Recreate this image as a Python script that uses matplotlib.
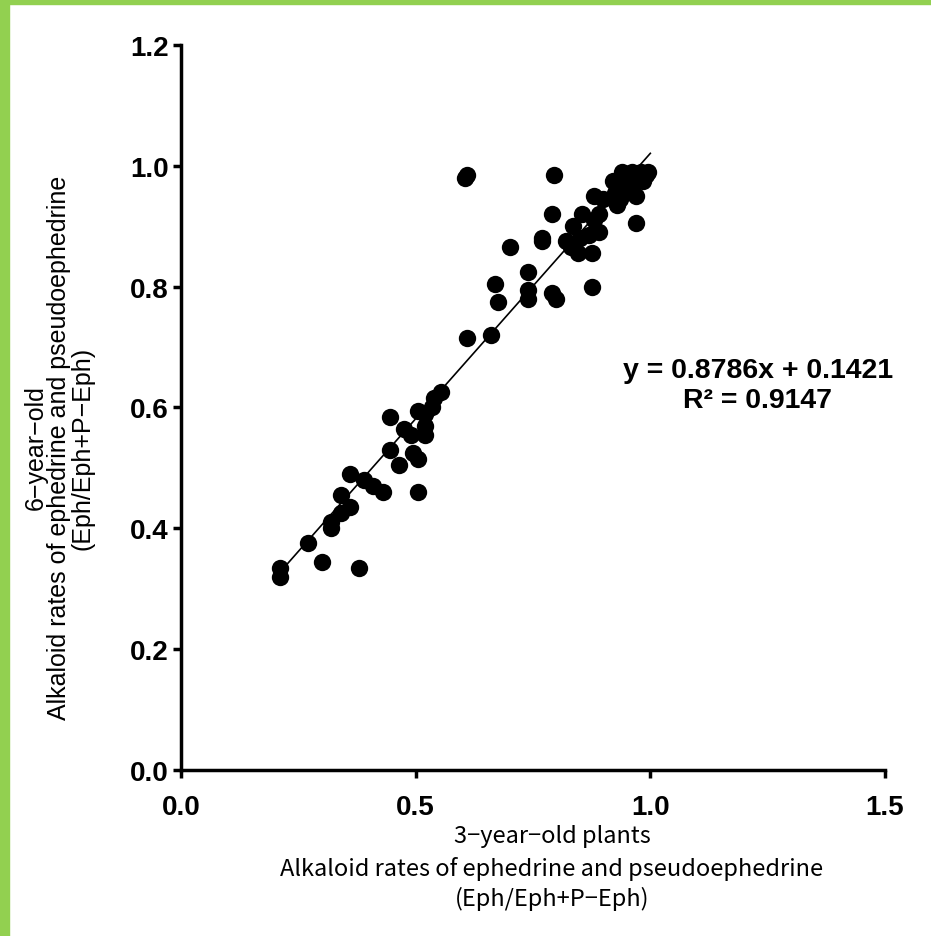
import matplotlib
matplotlib.use("Agg")
import matplotlib.pyplot as plt
from matplotlib.patches import Rectangle
import numpy as np

# Data (3-year-old x, 6-year-old y)
x3 = [0.21, 0.21, 0.27, 0.30, 0.32, 0.32, 0.34, 0.34, 0.36, 0.36, 0.38, 0.39,
      0.41, 0.43, 0.445, 0.445, 0.465, 0.475, 0.49, 0.495, 0.505, 0.505, 0.505,
      0.52, 0.52, 0.52, 0.535, 0.54, 0.555, 0.605, 0.61, 0.61, 0.66, 0.67,
      0.675, 0.70, 0.74, 0.74, 0.74, 0.77, 0.77, 0.79, 0.79, 0.80, 0.795,
      0.82, 0.83, 0.835, 0.845, 0.85, 0.855, 0.87, 0.875, 0.875, 0.88, 0.88,
      0.89, 0.89, 0.90, 0.92, 0.925, 0.93, 0.935, 0.94, 0.945, 0.95, 0.955,
      0.96, 0.965, 0.97, 0.97, 0.975, 0.98, 0.985, 0.99, 0.995]
y6 = [0.335, 0.32, 0.375, 0.345, 0.40, 0.41, 0.425, 0.455, 0.49, 0.435, 0.335, 0.48,
      0.47, 0.46, 0.585, 0.53, 0.505, 0.565, 0.555, 0.525, 0.515, 0.46, 0.595,
      0.555, 0.57, 0.59, 0.60, 0.615, 0.625, 0.98, 0.985, 0.715, 0.72, 0.805,
      0.775, 0.865, 0.825, 0.795, 0.78, 0.88, 0.875, 0.92, 0.79, 0.78, 0.985,
      0.875, 0.865, 0.90, 0.855, 0.88, 0.92, 0.885, 0.855, 0.80, 0.95, 0.91,
      0.92, 0.89, 0.945, 0.975, 0.955, 0.935, 0.945, 0.99, 0.975, 0.96, 0.985,
      0.99, 0.975, 0.95, 0.905, 0.98, 0.99, 0.975, 0.985, 0.99]

slope = 0.8786
intercept = 0.1421
r2 = 0.9147

x_ticks = [0.0, 0.5, 1.0, 1.5]
y_ticks = [0.0, 0.2, 0.4, 0.6, 0.8, 1.0, 1.2]

fig = plt.figure(figsize=(9.31, 9.37), dpi=100)
ax = fig.add_axes([181/931, 1-771/937, (885-181)/931, (771-46)/937])

ax.plot(x3, y6, linestyle="none", marker="o", markersize=12.5, color="black",
        markeredgewidth=0, zorder=3)
xl = np.array([min(x3), 1.0])
ax.plot(xl, slope*xl + intercept, color="black", linewidth=1.2, zorder=2)

ax.set_xlim(0, 1.5)
ax.set_ylim(0, 1.2)
ax.set_xticks(x_ticks)
ax.set_yticks(y_ticks)
ax.set_xticklabels([f"{v:.1f}" for v in x_ticks])
ax.set_yticklabels([f"{v:.1f}" for v in y_ticks])
for s in ["top", "right"]:
    ax.spines[s].set_visible(False)
for s in ["left", "bottom"]:
    ax.spines[s].set_linewidth(2.5)
ax.tick_params(axis="both", direction="out", length=6, width=2.5)
ax.tick_params(axis="y", pad=3)
ax.tick_params(axis="x", pad=11)
for lab in ax.get_xticklabels() + ax.get_yticklabels():
    lab.set_fontfamily("Liberation Sans")
    lab.set_fontweight("bold")
    lab.set_fontsize(20)

ax.text(1.229, 0.637, f"y = {slope}x + {intercept}\nR² = {r2}",
        ha="center", va="center", fontsize=20.5, fontweight="bold",
        family="Liberation Sans", linespacing=1.2, transform=ax.transData)

# Axis titles
fig.text(59/931, 1-448/937,
         "6\u2212year\u2212old\nAlkaloid rates of ephedrine and pseudoephedrine\n(Eph/Eph+P\u2212Eph)",
         rotation=90, ha="center", va="center", fontsize=18,
         family="Liberation Sans", linespacing=0.95)
xlab_lines = ["3\u2212year\u2212old plants",
              "Alkaloid rates of ephedrine and pseudoephedrine",
              "(Eph/Eph+P\u2212Eph)"]
xlab_y = [836, 869, 899]
for t, yy in zip(xlab_lines, xlab_y):
    fig.text(552/931, 1-yy/937, t, ha="center", va="center", fontsize=17,
             family=["Noto Sans CJK JP", "DejaVu Sans"])

# Green frame
green = "#92D050"
fig.patches.append(Rectangle((0, 0), 9/931, 1, transform=fig.transFigure,
                             color=green, zorder=0))
fig.patches.append(Rectangle((0, 1-5/937), 1, 5/937, transform=fig.transFigure,
                             color=green, zorder=0))

fig.savefig("out.png", dpi=100)
